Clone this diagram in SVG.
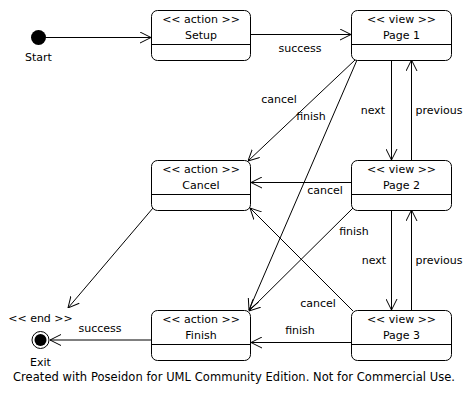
<svg xmlns="http://www.w3.org/2000/svg" width="472" height="400" viewBox="0 0 472 400">
<style>
text{font-family:"DejaVu Sans","Liberation Sans",sans-serif;font-size:11px;fill:#000}
.c{text-anchor:middle}
.box{fill:#fff;stroke:#000;stroke-width:1}
.ln{stroke:#000;stroke-width:1;fill:none}
.e{stroke:#000;stroke-width:1;fill:none;marker-end:url(#a)}
</style>
<defs>
<marker id="a" markerUnits="userSpaceOnUse" viewBox="0 0 11 12" refX="11" refY="6" markerWidth="11" markerHeight="12" orient="auto">
<path d="M0,0.5 L11,6 L0,11.5" fill="none" stroke="#000" stroke-width="1"/>
</marker>
</defs>
<rect width="472" height="400" fill="#fff"/>
<g id="connectors">
<line class="e" x1="46" y1="37.5" x2="151" y2="37.5"/>
<line class="e" x1="250" y1="34.5" x2="351" y2="34.5"/>
<text class="c" x="300" y="52">success</text>
<line class="e" x1="355" y1="60" x2="248" y2="161"/>
<text class="c" x="279" y="103">cancel</text>
<line class="e" x1="357" y1="60" x2="249" y2="310"/>
<text class="c" x="311" y="120">finish</text>
<line class="e" x1="391.5" y1="60" x2="391.5" y2="160"/>
<text class="c" x="373" y="114">next</text>
<line class="e" x1="411.5" y1="160" x2="411.5" y2="60"/>
<text class="c" x="439" y="114">previous</text>
<line class="e" x1="351" y1="182.5" x2="251" y2="182.5"/>
<text class="c" x="325" y="194">cancel</text>
<line class="e" x1="353" y1="208" x2="249" y2="311"/>
<text class="c" x="354" y="235">finish</text>
<line class="e" x1="391.5" y1="210" x2="391.5" y2="310"/>
<text class="c" x="374" y="264">next</text>
<line class="e" x1="411.5" y1="310" x2="411.5" y2="210"/>
<text class="c" x="439" y="264">previous</text>
<line class="e" x1="353" y1="311" x2="250" y2="208"/>
<text class="c" x="318" y="307">cancel</text>
<line class="e" x1="351" y1="342.5" x2="251" y2="342.5"/>
<text class="c" x="300" y="334">finish</text>
<line class="e" x1="153" y1="208" x2="68" y2="308"/>
<line class="e" x1="151" y1="340" x2="50" y2="340"/>
<text class="c" x="100" y="332">success</text>
</g>
<g id="start">
<circle cx="38.5" cy="37.5" r="7.5" fill="#000"/>
<text class="c" x="38.5" y="61">Start</text>
</g>
<g id="setup">
<rect class="box" x="151.5" y="10.5" width="99" height="50" rx="6"/>
<line class="ln" x1="151.5" y1="44.5" x2="250.5" y2="44.5"/>
<text class="c" x="201" y="23">&lt;&lt; action &gt;&gt;</text>
<text class="c" x="201" y="39">Setup</text>
</g>
<g id="page1">
<rect class="box" x="351.5" y="10.5" width="100" height="50" rx="6"/>
<line class="ln" x1="351.5" y1="44.5" x2="451.5" y2="44.5"/>
<text class="c" x="401.5" y="23">&lt;&lt; view &gt;&gt;</text>
<text class="c" x="401.5" y="39">Page 1</text>
</g>
<g id="cancel">
<rect class="box" x="151.5" y="160.5" width="99" height="50" rx="6"/>
<line class="ln" x1="151.5" y1="194.5" x2="250.5" y2="194.5"/>
<text class="c" x="201" y="173">&lt;&lt; action &gt;&gt;</text>
<text class="c" x="201" y="189">Cancel</text>
</g>
<g id="page2">
<rect class="box" x="351.5" y="160.5" width="100" height="50" rx="6"/>
<line class="ln" x1="351.5" y1="194.5" x2="451.5" y2="194.5"/>
<text class="c" x="401.5" y="173">&lt;&lt; view &gt;&gt;</text>
<text class="c" x="401.5" y="189">Page 2</text>
</g>
<g id="finish">
<rect class="box" x="151.5" y="310.5" width="99" height="50" rx="6"/>
<line class="ln" x1="151.5" y1="344.5" x2="250.5" y2="344.5"/>
<text class="c" x="201" y="323">&lt;&lt; action &gt;&gt;</text>
<text class="c" x="201" y="339">Finish</text>
</g>
<g id="page3">
<rect class="box" x="351.5" y="310.5" width="100" height="50" rx="6"/>
<line class="ln" x1="351.5" y1="344.5" x2="451.5" y2="344.5"/>
<text class="c" x="401.5" y="323">&lt;&lt; view &gt;&gt;</text>
<text class="c" x="401.5" y="339">Page 3</text>
</g>
<g id="exit">
<circle cx="40.5" cy="340" r="8.5" fill="#fff" stroke="#000"/>
<circle cx="40.5" cy="340" r="6" fill="#000"/>
<text class="c" x="40.5" y="322">&lt;&lt; end &gt;&gt;</text>
<text class="c" x="40.5" y="366">Exit</text>
</g>
<text id="footer" x="13" y="381" style="font-size:11.5px" textLength="442" lengthAdjust="spacing">Created with Poseidon for UML Community Edition. Not for Commercial Use.</text>
</svg>
